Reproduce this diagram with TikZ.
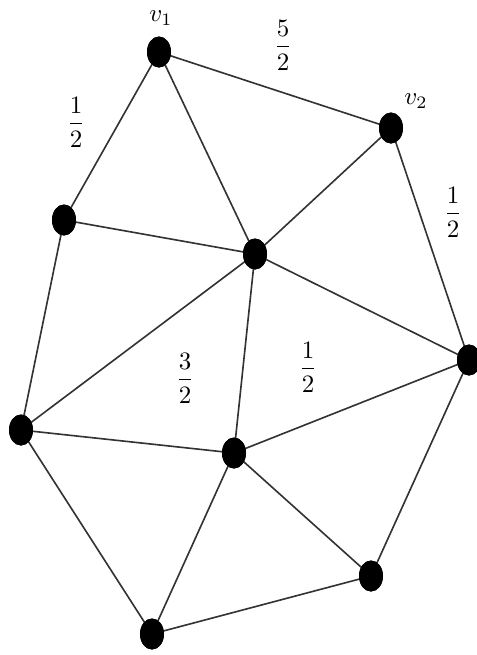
\documentclass[tikz,border=0pt]{standalone}
\usepackage{amsmath}
\usetikzlibrary{shapes.geometric}
\begin{document}
\begin{tikzpicture}[x=0.4pt,y=-0.4pt,
  vtx/.style={ellipse,fill=black,inner sep=0pt,minimum width=9.6pt,minimum height=12.4pt},
  edge/.style={draw=black!80,line width=0.65pt},
  lbl/.style={inner sep=0pt}]
\useasboundingbox (0,0) rectangle (477,655);
\node[vtx] (v1) at (159,52) {};
\node[vtx] (v2) at (391,128) {};
\node[vtx] (lu) at (64,220) {};
\node[vtx] (c) at (255,254) {};
\node[vtx] (r) at (469,360) {};
\node[vtx] (ll) at (21,430) {};
\node[vtx] (ml) at (234,453) {};
\node[vtx] (br) at (371,576) {};
\node[vtx] (b) at (152,634) {};
\begin{scope}[on background layer/.try]
\draw[edge] (v1.center) -- (v2.center);
\draw[edge] (v1.center) -- (lu.center);
\draw[edge] (v1.center) -- (c.center);
\draw[edge] (v2.center) -- (c.center);
\draw[edge] (v2.center) -- (r.center);
\draw[edge] (lu.center) -- (c.center);
\draw[edge] (lu.center) -- (ll.center);
\draw[edge] (c.center) -- (r.center);
\draw[edge] (c.center) -- (ll.center);
\draw[edge] (c.center) -- (ml.center);
\draw[edge] (r.center) -- (ml.center);
\draw[edge] (r.center) -- (br.center);
\draw[edge] (ll.center) -- (ml.center);
\draw[edge] (ll.center) -- (b.center);
\draw[edge] (ml.center) -- (b.center);
\draw[edge] (ml.center) -- (br.center);
\draw[edge] (b.center) -- (br.center);
\end{scope}
\node[vtx] at (v1) {};
\node[vtx] at (v2) {};
\node[vtx] at (lu) {};
\node[vtx] at (c) {};
\node[vtx] at (r) {};
\node[vtx] at (ll) {};
\node[vtx] at (ml) {};
\node[vtx] at (br) {};
\node[vtx] at (b) {};
\node[lbl] (lv1) at (161,18) {$v_1$};
\node[lbl] (lv2) at (416,101) {$v_2$};
\node[lbl] (f1) at (283,45) {$\dfrac{5}{2}$};
\node[lbl] (f2) at (76,122) {$\dfrac{1}{2}$};
\node[lbl] (f3) at (453,212) {$\dfrac{1}{2}$};
\node[lbl] (f4) at (185,378) {$\dfrac{3}{2}$};
\node[lbl] (f5) at (308,367) {$\dfrac{1}{2}$};
\end{tikzpicture}
\end{document}
